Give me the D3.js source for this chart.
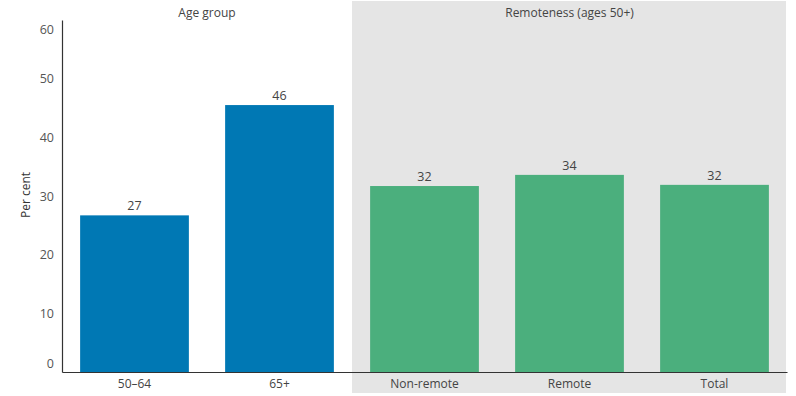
<!DOCTYPE html>
<html>
<head>
<meta charset="utf-8">
<script src="https://cdn.jsdelivr.net/npm/d3@7"></script>
<style>
  body { margin: 0; background: #fff; }
  svg text { font-family: "Open Sans", sans-serif; }
</style>
</head>
<body>
<div id="chart"></div>
<script>
// data
var categories = ["50–64", "65+", "Non-remote", "Remote", "Total"];
var groups = ["Age group", "Age group", "Remoteness (ages 50+)", "Remoteness (ages 50+)", "Remoteness (ages 50+)"];
var values = [26.7, 45.5, 31.7, 33.6, 31.9];
var labels = ["27", "46", "32", "34", "32"];
var yTicks = [0, 10, 20, 30, 40, 50, 60];

var width = 796, height = 396;
// plot edges (note: "top" is reserved on window, so use other names)
var plotLeft = 62, plotRight = 787, plotBottom = 372, plotTop = 20;

var svg = d3.select("#chart").append("svg")
  .attr("width", width)
  .attr("height", height);

var x = d3.scaleBand()
  .domain(categories)
  .range([plotLeft, plotRight])
  .paddingInner(0.25)
  .paddingOuter(0.125);

var y = d3.scaleLinear()
  .domain([0, 60])
  .range([plotBottom, plotTop]);

// grey panel behind the remoteness group
var half = x.step() * x.paddingInner() / 2;
var panelStart = x("Non-remote") - half;
svg.append("rect")
  .attr("x", panelStart)
  .attr("y", 1)
  .attr("width", plotRight - 1 - panelStart)
  .attr("height", 392)
  .attr("fill", "#e5e5e5");

// group headers
var groupNames = ["Age group", "Remoteness (ages 50+)"];
groupNames.forEach(function (g) {
  var cats = categories.filter(function (c, i) { return groups[i] == g; });
  var x0 = x(cats[0]) - half, x1 = x(cats[cats.length - 1]) + x.bandwidth() + half;
  svg.append("text")
    .attr("x", (x0 + Math.min(x1, plotRight)) / 2)
    .attr("y", 17)
    .attr("text-anchor", "middle")
    .attr("font-size", 12)
    .attr("fill", "#444")
    .text(g);
});

// bars
svg.selectAll("rect.bar")
  .data(categories)
  .enter().append("rect")
  .attr("class", "bar")
  .attr("x", function (d) { return x(d); })
  .attr("width", x.bandwidth())
  .attr("y", function (d, i) { return y(values[i]); })
  .attr("height", function (d, i) { return plotBottom - y(values[i]); })
  .attr("fill", function (d, i) { return groups[i] == "Age group" ? "#0078b4" : "#4baf7d"; });

// value labels
svg.selectAll("text.val")
  .data(categories)
  .enter().append("text")
  .attr("class", "val")
  .attr("x", function (d) { return x(d) + x.bandwidth() / 2; })
  .attr("y", function (d, i) { return y(values[i]) - 5; })
  .attr("text-anchor", "middle")
  .attr("font-size", 12.5)
  .attr("fill", "#444")
  .text(function (d, i) { return labels[i]; });

// y axis
var yAxis = svg.append("g")
  .attr("transform", "translate(" + plotLeft + ",0)")
  .call(d3.axisLeft(y).tickValues(yTicks).tickSize(0).tickPadding(8));
yAxis.select(".domain").attr("stroke", "#333").attr("stroke-width", 1.2);
yAxis.selectAll("text")
  .attr("font-size", 12.5)
  .attr("fill", "#555")
  .attr("font-family", "Open Sans, sans-serif");
// keep end labels inside the plot like the original
yAxis.selectAll(".tick").filter(function (d) { return d == 60; }).select("text").attr("dy", "1.1em");
yAxis.selectAll(".tick").filter(function (d) { return d == 0; }).select("text").attr("dy", "-0.35em");

svg.append("text")
  .attr("transform", "translate(30,195) rotate(-90)")
  .attr("text-anchor", "middle")
  .attr("font-size", 12)
  .attr("fill", "#333")
  .text("Per cent");

// x axis
var xAxis = svg.append("g")
  .attr("transform", "translate(0," + plotBottom + ")")
  .call(d3.axisBottom(x).tickSize(0).tickPadding(7).tickSizeOuter(0));
xAxis.select(".domain").attr("stroke", "#333").attr("stroke-width", 1.2);
xAxis.selectAll("text")
  .attr("font-size", 12)
  .attr("fill", "#444")
  .attr("font-family", "Open Sans, sans-serif");
</script>
</body>
</html>
